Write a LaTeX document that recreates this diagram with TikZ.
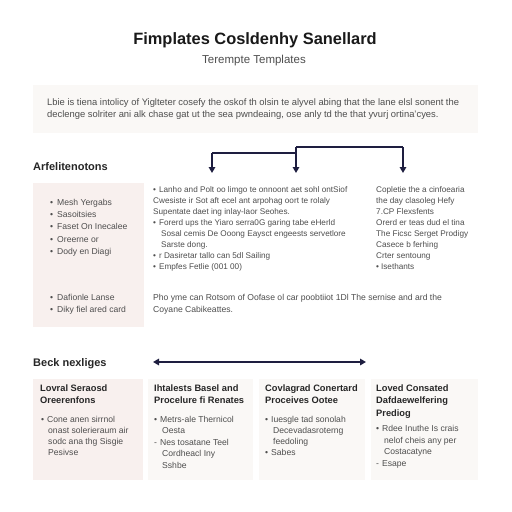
\documentclass[tikz,border=0pt]{standalone}
\usepackage{fontspec}
\setmainfont{Liberation Sans}
\usetikzlibrary{arrows.meta}
\definecolor{navy}{HTML}{1E1E40}
\definecolor{ink}{HTML}{4E4E4E}
\definecolor{boxA}{HTML}{F8F0EE}
\definecolor{boxB}{HTML}{FAF8F6}
\begin{document}
\begin{tikzpicture}[x=1pt,y=-1pt,
  body/.style={font=\fontsize{8.6}{10}\selectfont, text=ink, inner sep=0pt, anchor=base west},
  midbody/.style={body, font=\fontsize{8.2}{10}\selectfont},
  introbody/.style={body, font=\fontsize{9.4}{11}\selectfont},
  bttl/.style={font=\fontsize{9.3}{11}\selectfont\bfseries, text=black!85, inner sep=0pt, anchor=base west},
  head/.style={font=\fontsize{11}{13}\selectfont\bfseries, text=black!85, inner sep=0pt, anchor=base west},
  arr/.style={draw=navy, line width=1.6pt, -{Triangle[length=6pt,width=6.5pt]}},
  darr/.style={draw=navy, line width=1.6pt, {Triangle[length=6pt,width=6.5pt]}-{Triangle[length=6pt,width=6.5pt]}},
  link/.style={draw=navy, line width=1.6pt}]
\path[use as bounding box, fill=white] (0,0) rectangle (512,512);

% title
\node[inner sep=0pt, anchor=base, font=\fontsize{16.4}{18}\selectfont\bfseries, text=black!90] (title) at (255,44) {Fimplates Cosldenhy Sanellard};
\node[inner sep=0pt, anchor=base, font=\fontsize{11.5}{13}\selectfont, text=ink] (subtitle) at (254,63) {Terempte Templates};

% intro panel
\fill[boxB] (33,85) rectangle (478,133);
\foreach \t [count=\i] in {{Lbie is tiena intolicy of Yiglteter cosefy the oskof th olsin te alyvel abing that the lane elsl sonent the},
  {declenge solriter ani alk chase gat ut the sea pwndeaing, ose anly td the that yvurj ortina'cyes.}}
  \node[introbody] (intro\i) at (47,{105+12*(\i-1)}) {\t};

% heading 1
\node[head] (h1) at (33,170) {Arfelitenotons};

% arrows
\coordinate (a1) at (212,153);
\coordinate (a2) at (296,147);
\coordinate (a3) at (403,147);
\coordinate (t1) at (212,173);
\coordinate (t2) at (296,173);
\coordinate (t3) at (403,173);
\draw[link] (t2 |- a1) -- (a1);
\draw[arr] (a1) -- (t1);
\draw[link] (a2) -- (a3);
\draw[arr] (a2) -- (t2);
\draw[arr] (a3) -- (t3);

% left panel
\fill[boxA] (33,183) rectangle (144,327);
\foreach \t [count=\i] in {Mesh Yergabs, Sasoitsies, Faset On Inecalee, Oreerne or, Dody en Diagi}
  \node[body] (lb\i) at (50,{205+12.4*(\i-1)}) {•\hspace{4pt}\t};
\foreach \t [count=\i] in {Dafionle Lanse, Diky fiel ared card}
  \node[body] (lc\i) at (50,{300+12*(\i-1)}) {•\hspace{4pt}\t};

% middle column
\node[midbody] (m1) at (153,192) {•\hspace{3pt}Lanho and Polt oo limgo te onnoont aet sohl ontSiof};
\node[midbody] (m2) at (153,203) {Cwesiste ir Sot aft ecel ant arpohag oort te rolaly};
\node[midbody] (m3) at (153,214) {Supentate daet ing inlay-laor Seohes.};
\node[midbody] (m4) at (153,225) {•\hspace{3pt}Forerd ups the Yiaro serra0G garing tabe eHerld};
\node[midbody] (m5) at (161,236) {Sosal cemis De Ooong Eaysct engeests servetlore};
\node[midbody] (m6) at (161,247) {Sarste dong.};
\node[midbody] (m7) at (153,258) {•\hspace{3pt}r Dasiretar tallo can 5dl Sailing};
\node[midbody] (m8) at (153,269) {•\hspace{3pt}Empfes Fetlie (001 00)};

% right column
\foreach \t [count=\i] in {Copletie the a cinfoearia, the day clasoleg Hefy, 7.CP Flexsfents, Orerd er teas dud el tina, The Ficsc Serget Prodigy, Casece b ferhing, Crter sentoung, •\hspace{2pt}Isethants}
  \node[midbody] (r\i) at (376,{192+11*(\i-1)}) {\t};

% middle bottom text
\node[body] (mb1) at (153,300.5) {Pho yme can Rotsom of Oofase ol car poobtiiot 1Dl The sernise and ard the};
\node[body] (mb2) at (153,312) {Coyane Cabikeattes.};

% heading 2
\node[head] (h2) at (33,366) {Beck nexliges};
\coordinate (d1) at (153,362);
\coordinate (d2) at (366,362);
\draw[darr] (d1) -- (d2);

% bottom boxes
\fill[boxA] (33,379) rectangle (143,480);
\fill[boxB] (148,379) rectangle (253,480);
\fill[boxB] (259,379) rectangle (365,480);
\fill[boxB] (371,379) rectangle (478,480);

\node[bttl] (b1t1) at (40,391) {Lovral Seraosd};
\node[bttl] (b1t2) at (40,403.5) {Oreerenfons};
\foreach \t [count=\i] in {•\hspace{3pt}Cone anen sirrnol, \hspace{7pt}onast solerieraum air, \hspace{7pt}sodc ana thg Sisgie, \hspace{7pt}Pesivse}
  \node[body] (b1l\i) at (41,{422+11*(\i-1)}) {\t};

\node[bttl] (b2t1) at (154,391) {Ihtalests Basel and};
\node[bttl] (b2t2) at (154,403.5) {Procelure fi Renates};
\foreach \t [count=\i] in {•\hspace{3pt}Metrs-ale Thernicol, \hspace{8pt}Oesta, -\hspace{3pt}Nes tosatane Teel, \hspace{8pt}Cordheacl Iny, \hspace{8pt}Sshbe}
  \node[body] (b2l\i) at (154,{422+11.5*(\i-1)}) {\t};

\node[bttl] (b3t1) at (265,391) {Covlagrad Conertard};
\node[bttl] (b3t2) at (265,403.5) {Proceives Ootee};
\foreach \t [count=\i] in {•\hspace{3pt}Iuesgle tad sonolah, \hspace{8pt}Decevadasroterng, \hspace{8pt}feedoling, •\hspace{3pt}Sabes}
  \node[body] (b3l\i) at (265,{422+11*(\i-1)}) {\t};

\node[bttl] (b4t1) at (376,391) {Loved Consated};
\node[bttl] (b4t2) at (376,403.5) {Dafdaewelfering};
\node[bttl] (b4t3) at (376,416.5) {Prediog};
\foreach \t [count=\i] in {•\hspace{3pt}Rdee Inuthe Is crais, \hspace{8pt}nelof cheis any per, \hspace{8pt}Costacatyne, -\hspace{3pt}Esape}
  \node[body] (b4l\i) at (376,{431.5+11.5*(\i-1)}) {\t};
\end{tikzpicture}
\end{document}
